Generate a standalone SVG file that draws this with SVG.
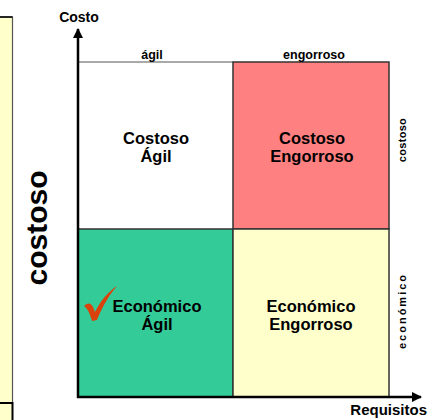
<svg xmlns="http://www.w3.org/2000/svg" width="428" height="420" viewBox="0 0 428 420">
  <style>
    text { font-family: "Liberation Sans", Arial, sans-serif; font-weight: bold; fill: #000; }
    .q { font-size: 16.5px; text-anchor: middle; }
    .top { font-size: 12.5px; text-anchor: middle; }
    .side { font-size: 11px; text-anchor: middle; }
    .quad { stroke: #333; stroke-width: 1.5; }
    .axis { stroke: #000; stroke-width: 2.5; fill: none; }
  </style>
  <defs>
    <marker id="arrow" viewBox="0 0 10 10" refX="9" refY="5" markerWidth="4.2" markerHeight="4.2" orient="auto" markerUnits="strokeWidth">
      <path d="M0,0 L10,5 L0,10 z" fill="#000"/>
    </marker>
  </defs>
  <rect width="428" height="420" fill="#fff"/>

  <!-- left partial panel -->
  <g id="left-panel">
    <rect x="-2" y="17" width="14.5" height="386" fill="#FFFFCC" stroke="#555" stroke-width="1.2"/>
    <rect x="-2" y="403" width="14.5" height="20" fill="#FFFFCC" stroke="#000" stroke-width="2"/>
    <line x1="-2" y1="17" x2="12.5" y2="17" stroke="#000" stroke-width="1.5"/>
  </g>

  <g id="label-costoso-big">
    <text transform="translate(47,228) rotate(-90)" font-size="30" text-anchor="middle">costoso</text>
  </g>

  <!-- quadrants -->
  <g id="q-costoso-agil">
    <rect x="78" y="62" width="155" height="167" fill="#fff"/>
    <line x1="78" y1="62" x2="233" y2="62" stroke="#555" stroke-width="1"/>
    <text class="q" x="156" y="144">Costoso</text>
    <text class="q" x="156" y="162">Ágil</text>
  </g>
  <g id="q-costoso-engorroso">
    <rect class="quad" x="233" y="62" width="156" height="167" fill="#FF8080"/>
    <text class="q" x="312" y="144">Costoso</text>
    <text class="q" x="312" y="162">Engorroso</text>
  </g>
  <g id="q-economico-agil">
    <rect class="quad" x="78" y="229" width="155" height="168" fill="#33CC99"/>
    <path d="M84,306 C88,302 91,303 93,307 L95,312 C101,300 108,292 117,286 C110,294 103,305 97,320 L92,321 C90,314 88,309 84,306 Z" fill="#D9420B"/>
    <text class="q" x="157" y="312">Económico</text>
    <text class="q" x="157" y="330">Ágil</text>
  </g>
  <g id="q-economico-engorroso">
    <rect class="quad" x="233" y="229" width="156" height="168" fill="#FFFFCC"/>
    <text class="q" x="311" y="312">Económico</text>
    <text class="q" x="311" y="330">Engorroso</text>
  </g>

  <!-- column / row labels -->
  <g id="col-labels">
    <text class="top" x="152" y="59">ágil</text>
    <text class="top" x="314" y="59">engorroso</text>
  </g>
  <g id="row-labels">
    <text class="side" transform="translate(406,140) rotate(-90)" letter-spacing="0.3">costoso</text>
    <text class="side" transform="translate(406,311) rotate(-90)" letter-spacing="2">económico</text>
  </g>

  <!-- axes -->
  <g id="connectors">
    <line class="axis" x1="78" y1="398" x2="78" y2="29" marker-end="url(#arrow)"/>
    <line class="axis" x1="77" y1="397" x2="421" y2="397" marker-end="url(#arrow)"/>
  </g>
  <g id="axis-labels">
    <text x="79" y="22" font-size="14" text-anchor="middle">Costo</text>
    <text x="427" y="415" font-size="15" text-anchor="end">Requisitos</text>
  </g>
</svg>
